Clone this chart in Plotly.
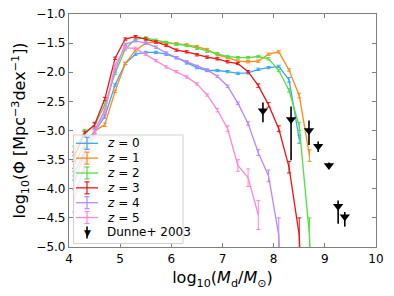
import plotly.graph_objects as go

# ---- data -------------------------------------------------------------
LOGM = [4.1, 4.3, 4.5, 4.7, 4.9, 5.1, 5.3, 5.5, 5.7, 5.9, 6.1, 6.3, 6.5,
        6.7, 6.9, 7.1, 7.3, 7.5, 7.7, 7.9, 8.1, 8.3, 8.5, 8.7, 8.9]

PHI_Z0 = [-3.75, -3.35, -3.02, -2.76, -2.22, -1.85, -1.69, -1.66, -1.66, -1.69,
          -1.75, -1.84, -1.92, -1.97, -1.97, -1.99, -2.02, -2.01, -1.95, -1.92,
          -1.90, -2.13, -3.15, None, None]
PHI_Z1 = [-3.60, -3.25, -3.01, -2.90, -2.33, -1.85, -1.62, -1.50, -1.48, -1.49,
          -1.51, -1.53, -1.56, -1.61, -1.70, -1.75, -1.81, -1.82, -1.81, -1.69,
          -1.65, -1.96, -2.40, -3.43, None]
PHI_Z2 = [-3.35, -3.03, -2.92, -2.56, -2.02, -1.60, -1.43, -1.41, -1.45, -1.49,
          -1.52, -1.54, -1.59, -1.64, -1.68, -1.73, -1.75, -1.75, -1.73, -1.77,
          -1.97, -2.31, -2.93, -4.80, -9.0]
PHI_Z3 = [-3.45, -3.06, -2.90, -2.46, -1.76, -1.43, -1.39, -1.43, -1.48, -1.54,
          -1.62, -1.65, -1.70, -1.74, -1.77, -1.82, -1.85, -1.99, -2.23, -2.56,
          -2.97, -3.63, -4.80, -9.0, None]
PHI_Z4 = [-3.90, -3.40, -3.00, -2.65, -1.96, -1.52, -1.46, -1.50, -1.57, -1.67,
          -1.75, -1.82, -1.90, -1.96, -2.07, -2.24, -2.53, -2.88, -3.38, -3.78,
          -4.80, -9.0, None, None, None]
PHI_Z5 = [-4.20, -3.60, -3.05, -2.69, -1.88, -1.58, -1.59, -1.69, -1.80, -1.91,
          -1.99, -2.08, -2.20, -2.39, -2.65, -2.97, -3.60, -3.81, -4.45, None,
          None, None, None, None, None]

ERR_UP_Z0 = [0.10, 0.06, 0.04, 0.03, 0.02, 0.02, 0.02, 0.02, 0.02, 0.02, 0.02, 0.02, 0.02,
             0.02, 0.02, 0.02, 0.02, 0.02, 0.02, 0.02, 0.02, 0.04, 0.07, 0, 0]
ERR_DN_Z0 = ERR_UP_Z0
ERR_UP_Z1 = [0.10, 0.06, 0.04, 0.03, 0.02, 0.02, 0.02, 0.02, 0.02, 0.02, 0.02, 0.02, 0.02,
             0.02, 0.02, 0.02, 0.02, 0.02, 0.02, 0.02, 0.02, 0.02, 0.04, 0.10, 0]
ERR_DN_Z1 = ERR_UP_Z1
ERR_UP_Z2 = [0.08, 0.05, 0.04, 0.03, 0.02, 0.02, 0.02, 0.02, 0.02, 0.02, 0.02, 0.02, 0.02,
             0.02, 0.02, 0.02, 0.02, 0.02, 0.02, 0.02, 0.02, 0.03, 0.07, 0.30, 0]
ERR_DN_Z2 = [0.08, 0.05, 0.04, 0.03, 0.02, 0.02, 0.02, 0.02, 0.02, 0.02, 0.02, 0.02, 0.02,
             0.02, 0.02, 0.02, 0.02, 0.02, 0.02, 0.02, 0.02, 0.03, 0.07, 3.0, 0]
ERR_UP_Z3 = [0.08, 0.05, 0.04, 0.03, 0.02, 0.02, 0.02, 0.02, 0.02, 0.02, 0.02, 0.02, 0.02,
             0.02, 0.02, 0.02, 0.02, 0.02, 0.03, 0.04, 0.05, 0.10, 0.30, 0, 0]
ERR_DN_Z3 = [0.08, 0.05, 0.04, 0.03, 0.02, 0.02, 0.02, 0.02, 0.02, 0.02, 0.02, 0.02, 0.02,
             0.02, 0.02, 0.02, 0.02, 0.02, 0.03, 0.04, 0.05, 0.10, 3.0, 0, 0]
ERR_UP_Z4 = [0.12, 0.07, 0.05, 0.03, 0.02, 0.02, 0.02, 0.02, 0.02, 0.02, 0.02, 0.02, 0.02,
             0.02, 0.02, 0.02, 0.02, 0.03, 0.05, 0.10, 0.30, 0, 0, 0, 0]
ERR_DN_Z4 = [0.12, 0.07, 0.05, 0.03, 0.02, 0.02, 0.02, 0.02, 0.02, 0.02, 0.02, 0.02, 0.02,
             0.02, 0.02, 0.02, 0.02, 0.03, 0.05, 0.10, 3.0, 0, 0, 0, 0]
ERR_UP_Z5 = [0.20, 0.10, 0.06, 0.04, 0.02, 0.02, 0.02, 0.02, 0.02, 0.02, 0.02, 0.02, 0.02,
             0.02, 0.03, 0.05, 0.10, 0.15, 0.25, 0, 0, 0, 0, 0, 0]
ERR_DN_Z5 = ERR_UP_Z5

DUNNE_X = [7.79, 8.34, 8.69, 8.87, 9.08, 9.26, 9.39]
DUNNE_Y = [-2.66, -2.81, -3.00, -3.27, -3.60, -4.30, -4.48]
DUNNE_UP = [0.14, 0.22, 0.17, 0.08, 0.05, 0.10, 0.08]
DUNNE_DN = [0.20, 0.70, 0.25, 0.10, 0.05, 0.30, 0.17]

LABELS = ["<i>z</i> = 0", "<i>z</i> = 1", "<i>z</i> = 2",
          "<i>z</i> = 3", "<i>z</i> = 4", "<i>z</i> = 5"]
DUNNE_LABEL = "Dunne+ 2003"
COLORS = ["#3aa6f5", "#ff8a1c", "#52e040", "#f01414", "#b987ff", "#ff85d8"]

PHIS = [PHI_Z0, PHI_Z1, PHI_Z2, PHI_Z3, PHI_Z4, PHI_Z5]
ERR_UPS = [ERR_UP_Z0, ERR_UP_Z1, ERR_UP_Z2, ERR_UP_Z3, ERR_UP_Z4, ERR_UP_Z5]
ERR_DNS = [ERR_DN_Z0, ERR_DN_Z1, ERR_DN_Z2, ERR_DN_Z3, ERR_DN_Z4, ERR_DN_Z5]

FONT = "DejaVu Sans"

# ---- geometry (pixels) -------------------------------------------------
W, H = 394, 296
ML, MR, MT, MB = 69, 18, 14, 49
PW, PH = W - ML - MR, H - MT - MB


def dx(px):
    return (px - ML) / PW


def dy(py):
    return (H - MB - py) / PH


fig = go.Figure()

for name, ys, eu, ed, col in zip(LABELS, PHIS, ERR_UPS, ERR_DNS, COLORS):
    fig.add_trace(go.Scatter(
        x=LOGM, y=ys, mode="lines", name=name, showlegend=False,
        line=dict(color=col, width=1.3),
        error_y=dict(type="data", array=eu, arrayminus=ed, symmetric=False,
                     color=col, thickness=1, width=2),
    ))

fig.add_trace(go.Scatter(
    x=DUNNE_X, y=DUNNE_Y, mode="markers", name=DUNNE_LABEL, showlegend=False,
    marker=dict(symbol="triangle-down", size=9, color="black"),
    error_y=dict(type="data", array=DUNNE_UP, arrayminus=DUNNE_DN, symmetric=False,
                 color="black", thickness=1.6, width=0),
))

# ---- hand-built legend (matplotlib style) --------------------------------
shapes = []
annotations = []
LX0, LX1, LY0, LY1 = 73.5, 183, 135, 243.5
shapes.append(dict(type="rect", xref="x domain", yref="y domain",
                   x0=dx(LX0), x1=dx(LX1), y0=dy(LY1), y1=dy(LY0),
                   fillcolor="rgba(255,255,255,0.8)",
                   line=dict(color="#d0d0d0", width=1), layer="above"))
ROW0, ROWSTEP = 143.3, 14.85
SYM_X0, SYM_X1, SYM_XC, TXT_X = 76, 98, 87, 105

all_labels = LABELS + [DUNNE_LABEL]
all_colors = COLORS + ["black"]
for i, (lab, col) in enumerate(zip(all_labels, all_colors)):
    ry = ROW0 + i * ROWSTEP
    if i < len(LABELS):
        shapes.append(dict(type="line", xref="x domain", yref="y domain",
                           x0=dx(SYM_X0), x1=dx(SYM_X1), y0=dy(ry), y1=dy(ry),
                           line=dict(color=col, width=1.3), layer="above"))
        shapes.append(dict(type="line", xref="x domain", yref="y domain",
                           x0=dx(SYM_XC), x1=dx(SYM_XC), y0=dy(ry - 6), y1=dy(ry + 6),
                           line=dict(color=col, width=1.2), layer="above"))
        for cy in (ry - 6, ry + 6):
            shapes.append(dict(type="line", xref="x domain", yref="y domain",
                               x0=dx(SYM_XC - 2.5), x1=dx(SYM_XC + 2.5), y0=dy(cy), y1=dy(cy),
                               line=dict(color=col, width=1.2), layer="above"))
    else:
        shapes.append(dict(type="line", xref="x domain", yref="y domain",
                           x0=dx(SYM_XC), x1=dx(SYM_XC), y0=dy(ry - 6), y1=dy(ry + 6),
                           line=dict(color="black", width=1.6), layer="above"))
        annotations.append(dict(xref="x domain", yref="y domain", x=dx(SYM_XC), y=dy(ry + 0.5),
                                text="▼", showarrow=False, xanchor="center", yanchor="middle",
                                font=dict(family=FONT, size=9, color="black")))
    annotations.append(dict(xref="x domain", yref="y domain", x=dx(TXT_X), y=dy(ry),
                            text=lab, showarrow=False, xanchor="left", yanchor="middle",
                            font=dict(family=FONT, size=12, color="black")))

axis_common = dict(
    showline=True, linecolor="#808080", linewidth=1.2, mirror="ticks",
    ticks="inside", ticklen=4, tickwidth=1, tickcolor="#808080",
    showgrid=False, zeroline=False,
    tickfont=dict(family=FONT, size=12, color="black"),
)

fig.update_layout(
    width=W, height=H,
    margin=dict(l=ML, r=MR, t=MT, b=MB),
    paper_bgcolor="white", plot_bgcolor="white",
    font=dict(family=FONT, color="black"),
    xaxis=dict(range=[4, 10], tickvals=[4, 5, 6, 7, 8, 9, 10],
               title=dict(text="log<sub>10</sub>(<i>M</i><sub>d</sub>/<i>M</i><sub>⊙</sub>)",
                          font=dict(family=FONT, size=16), standoff=7),
               automargin=False, **axis_common),
    yaxis=dict(range=[-5, -1], dtick=0.5, tick0=-5, tickformat=".1f",
               title=dict(text="log<sub>10</sub>(Φ [Mpc<sup>−3</sup>dex<sup>−1</sup>])",
                          font=dict(family=FONT, size=16), standoff=6),
               automargin=False, **axis_common),
    shapes=shapes,
    annotations=annotations,
    showlegend=False,
)

fig.write_html("out.html", config={"displayModeBar": False},
               post_script="document.body.style.margin='0';")
